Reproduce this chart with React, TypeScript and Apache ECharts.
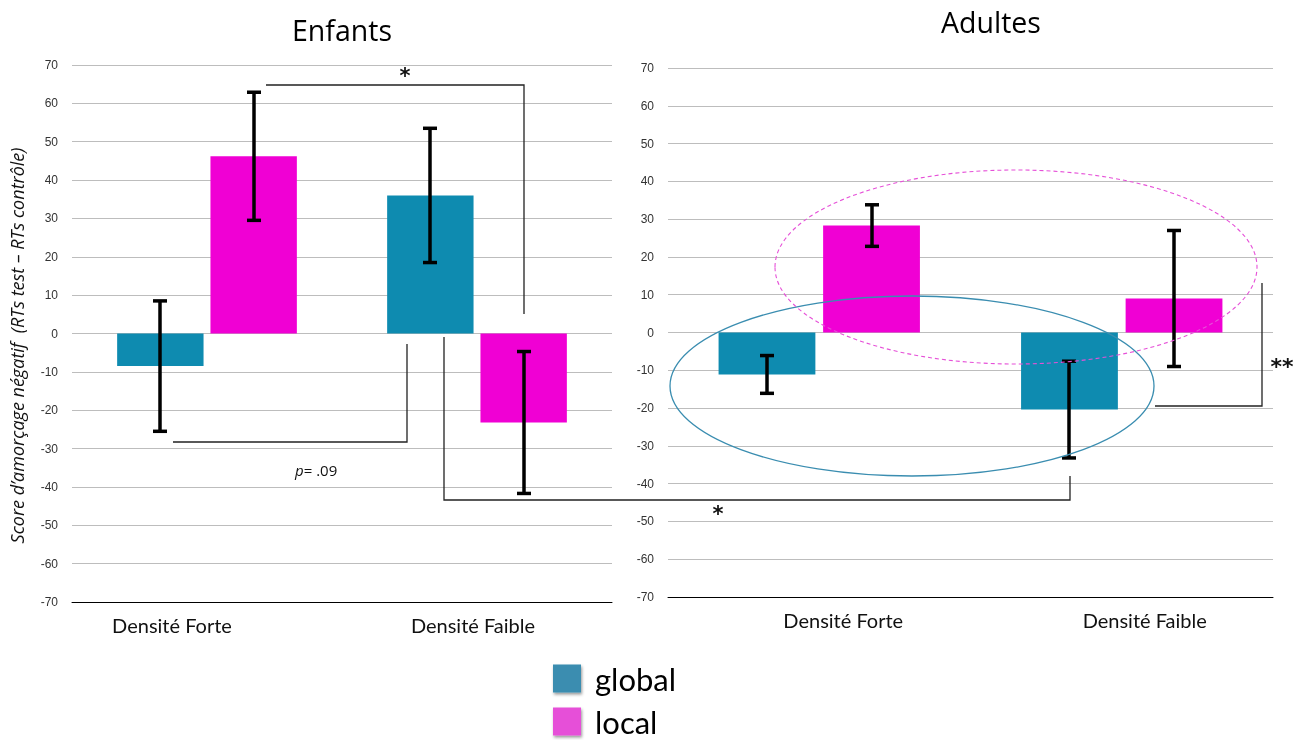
import React, { useEffect, useRef } from "react";
import * as echarts from "echarts";

const categories = ["Densité Forte", "Densité Faible"];
const seriesNames = ["global", "local"];

// Enfants
const childGlobal = [-8.5, 36.0];
const childGlobalErr = [17.0, 17.5];
const childLocal = [46.2, -23.2];
const childLocalErr = [16.7, 18.5];

// Adultes
const adultGlobal = [-11.1, -20.4];
const adultGlobalErr = [5.0, 12.8];
const adultLocal = [28.3, 9.0];
const adultLocalErr = [5.5, 18.0];

const yTicks = { min: -70, max: 70, interval: 10 };
const titles = ["Enfants", "Adultes"];
const yAxisTitle = "Score d’amorçage négatif  (RTs test – RTs contrôle)";

const GLOBAL_COLOR = "#0E8BB0";
const LOCAL_COLOR = "#F000D4";
const BAR_W = 0.32;
const BAR_GAP = 0.08;

function errData(vals: number[], errs: number[], side: number) {
  return vals.map((v, i) => [i, v - errs[i], v + errs[i], side]);
}

function renderErr(params: any, api: any) {
  const idx = api.value(0);
  const lo = api.value(1);
  const hi = api.value(2);
  const side = api.value(3);
  const cw = api.size([1, 0])[0];
  const off = side * (BAR_W * cw * (1 + BAR_GAP)) / 2;
  const pLo = api.coord([idx, lo]);
  const pHi = api.coord([idx, hi]);
  const x = Math.round(pLo[0] + off);
  const cap = 7;
  const st = { stroke: "#000", lineWidth: 3.5 };
  return {
    type: "group",
    children: [
      { type: "line", shape: { x1: x, y1: pLo[1], x2: x, y2: pHi[1] }, style: st },
      { type: "line", shape: { x1: x - cap, y1: pLo[1], x2: x + cap, y2: pLo[1] }, style: st },
      { type: "line", shape: { x1: x - cap, y1: pHi[1], x2: x + cap, y2: pHi[1] }, style: st },
    ],
  };
}

export default function App() {
  const ref = useRef<HTMLDivElement>(null);
  useEffect(() => {
    if (!ref.current) return;
    const chart = echarts.init(ref.current, null, { renderer: "svg" });
    const catFont = "Lato";
    const yAxisBase = (gi: number, withName: boolean) => ({
      type: "value",
      gridIndex: gi,
      min: yTicks.min,
      max: yTicks.max,
      interval: yTicks.interval,
      axisLine: { show: false },
      axisTick: { show: false },
      axisLabel: { color: "#333", fontSize: 12, fontFamily: "Liberation Sans", margin: 14 },
      splitLine: { lineStyle: { color: "#bdbdbd", width: 1 } },
      ...(withName
        ? {
            name: yAxisTitle,
            nameLocation: "middle",
            nameRotate: 90,
            nameGap: 46,
            nameTextStyle: { fontFamily: "Open Sans", fontStyle: "italic", fontSize: 18, color: "#111", padding: [0, 24, 0, 0] },
          }
        : {}),
    });
    const xAxisBase = (gi: number, pads: number[][]) => ({
      type: "category",
      gridIndex: gi,
      data: categories,
      axisLine: { onZero: false, lineStyle: { color: "#000", width: 1 } },
      axisTick: { show: false },
      axisLabel: {
        margin: 13,
        formatter: (v: string, i: number) => (i === 0 ? `{a|${v}}` : `{b|${v}}`),
        rich: {
          a: { fontSize: 20, fontFamily: catFont, color: "#111", padding: pads[0] },
          b: { fontSize: 20, fontFamily: catFont, color: "#111", padding: pads[1] },
        },
      },
    });
    const barSeries = (name: string, gi: number, data: number[], color: string) => ({
      type: "bar",
      name,
      xAxisIndex: gi,
      yAxisIndex: gi,
      data,
      barWidth: `${BAR_W * 100}%`,
      barGap: `${BAR_GAP * 100}%`,
      itemStyle: { color },
    });
    const errSeries = (gi: number, data: number[][]) => ({
      type: "custom",
      xAxisIndex: gi,
      yAxisIndex: gi,
      data,
      renderItem: renderErr,
      z: 10,
      silent: true,
    });
    const lineStyle = { stroke: "#222", lineWidth: 1.3, fill: "none" };
    const poly = (pts: number[][]) => ({ type: "polyline", shape: { points: pts }, style: lineStyle, z: 50 });
    const txt = (x: number, y: number, text: string, size: number, extra: any = {}) => ({
      type: "text",
      x,
      y,
      z: 60,
      style: { text, fontSize: size, fontFamily: "DejaVu Sans", fill: "#111", align: "center", verticalAlign: "middle", ...extra },
    });
    const legendItem = (i: number, top: number, color: string) => ({
      orient: "vertical",
      left: 553,
      top,
      padding: 0,
      itemWidth: 28,
      itemHeight: 28,
      icon: "rect",
      data: [{ name: seriesNames[i], itemStyle: { color, shadowBlur: 3, shadowColor: "rgba(0,0,0,0.4)", shadowOffsetX: 1, shadowOffsetY: 2 } }],
      textStyle: { fontSize: 31, fontFamily: "Lato", color: "#000", padding: [0, 0, 0, 9] },
      selectedMode: false,
    });

    chart.setOption({
      animation: false,
      title: [
        { text: titles[0], left: 337, top: 10, textAlign: "center", textStyle: { fontFamily: "Open Sans", fontSize: 28.5, fontWeight: "normal", color: "#000" } },
        { text: titles[1], left: 986, top: 2, textAlign: "center", textStyle: { fontFamily: "Open Sans", fontSize: 28.5, fontWeight: "normal", color: "#000" } },
      ],
      legend: [legendItem(0, 663, "#3A8DB0"), legendItem(1, 706, "#E650D8")],
      grid: [
        { left: 72, top: 65, width: 540, height: 537 },
        { left: 668, top: 68, width: 605, height: 529 },
      ],
      xAxis: [xAxisBase(0, [[0, 70, 0, 0], [0, 8, 0, 0]]), xAxisBase(1, [[0, 0, 0, 48], [0, 0, 0, 46]])],
      yAxis: [yAxisBase(0, true), yAxisBase(1, false)],
      series: [
        barSeries(seriesNames[0], 0, childGlobal, GLOBAL_COLOR),
        barSeries(seriesNames[1], 0, childLocal, LOCAL_COLOR),
        barSeries(seriesNames[0], 1, adultGlobal, GLOBAL_COLOR),
        barSeries(seriesNames[1], 1, adultLocal, LOCAL_COLOR),
        errSeries(0, [...errData(childGlobal, childGlobalErr, -1), ...errData(childLocal, childLocalErr, 1)]),
        errSeries(1, [...errData(adultGlobal, adultGlobalErr, -1), ...errData(adultLocal, adultLocalErr, 1)]),
      ],
      graphic: [
        poly([[266, 85], [524, 85], [524, 314]]),
        txt(405, 76, "*", 21, { fontWeight: "bold" }),
        poly([[173, 442], [407, 442], [407, 344]]),
        {
          type: "text",
          x: 295,
          y: 470,
          z: 60,
          style: {
            text: "{i|p}= .09",
            verticalAlign: "middle",
            fontSize: 15,
            fontFamily: "Open Sans",
            fill: "#111",
            rich: { i: { fontStyle: "italic", fontSize: 15, fontFamily: "Open Sans", fill: "#111" } },
          },
        },
        poly([[444, 337], [444, 500], [1070, 500], [1070, 476]]),
        txt(718, 514, "*", 21, { fontWeight: "bold" }),
        poly([[1155, 406], [1262, 406], [1262, 283]]),
        txt(1282, 366, "**", 22, { fontWeight: "bold", letterSpacing: 5 }),
        {
          type: "ellipse",
          z: 55,
          shape: { cx: 912, cy: 386, rx: 242, ry: 90 },
          style: { fill: "none", stroke: "#3A8DB0", lineWidth: 1.3 },
        },
        {
          type: "ellipse",
          z: 55,
          shape: { cx: 1016, cy: 267, rx: 241, ry: 97 },
          style: { fill: "none", stroke: "#E650D8", lineWidth: 1.1, lineDash: [4, 3] },
        },
      ],
    });
    return () => chart.dispose();
  }, []);
  return <div ref={ref} style={{ position: "fixed", left: 0, top: 0, width: 1307, height: 740 }} />;
}
